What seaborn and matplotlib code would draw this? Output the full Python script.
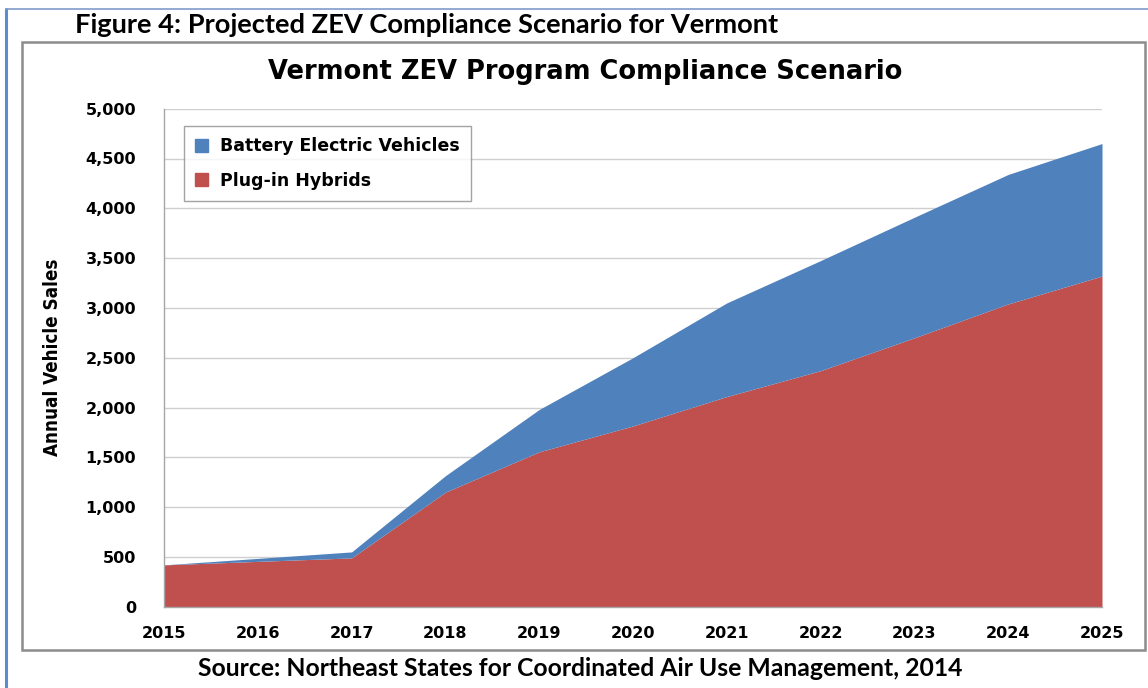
import matplotlib
matplotlib.use("Agg")
import matplotlib.pyplot as plt
import matplotlib.patches as mpatches
from matplotlib.ticker import FuncFormatter
import seaborn as sns
import pandas as pd

# data
years = [2015, 2016, 2017, 2018, 2019, 2020, 2021, 2022, 2023, 2024, 2025]
plug_in_hybrids = [420, 455, 490, 1150, 1555, 1815, 2110, 2370, 2700, 3040, 3320]
battery_electric = [0, 30, 60, 165, 425, 685, 940, 1105, 1210, 1300, 1330]
series_names = ["Battery Electric Vehicles", "Plug-in Hybrids"]

df = pd.DataFrame({"Year": years,
                   "Plug-in Hybrids": plug_in_hybrids,
                   "Battery Electric Vehicles": battery_electric})

sns.set_theme(style="white")
plt.rcParams["font.family"] = ["DejaVu Sans"]
plt.rcParams["text.color"] = "black"

red = "#C0504D"
blue = "#4F81BD"
grey = "#A6A6A6"

fig = plt.figure(figsize=(11.48, 6.88), dpi=100)

# page frame: blue left rule + thin top rule
fig.add_artist(plt.Line2D([6 / 1148, 6 / 1148], [0, 1 - 9 / 688], color="#5B8BD0", lw=2.2))
fig.add_artist(plt.Line2D([6 / 1148, 1], [1 - 9 / 688, 1 - 9 / 688], color="#7F9CC8", lw=1.2))

# chart frame
fig.add_artist(mpatches.Rectangle((22 / 1148, 38 / 688), 1123 / 1148, 608 / 688,
                                  transform=fig.transFigure, fill=False,
                                  edgecolor="#8C8C8C", lw=1.8))

ax = fig.add_axes([164 / 1148, (688 - 606.7) / 688, 938 / 1148, 498 / 688])

ax.stackplot(df["Year"], df["Plug-in Hybrids"], df["Battery Electric Vehicles"],
             colors=[red, blue], linewidth=0, zorder=2)

ax.set_xlim(2015, 2025)
ax.set_ylim(0, 5000)
ax.set_xticks(years)
ax.set_yticks(range(0, 5001, 500))
ax.yaxis.set_major_formatter(FuncFormatter(lambda v, p: f"{int(v):,}"))
ax.grid(axis="y", color="#CFCFCF", lw=1, zorder=0)
ax.grid(axis="x", visible=False)
ax.set_axisbelow(True)

sns.despine(ax=ax, top=True, right=True)
for s in ["left", "bottom"]:
    ax.spines[s].set_color(grey)
    ax.spines[s].set_linewidth(1)
    ax.spines[s].set_zorder(3)

ax.tick_params(axis="both", which="major", direction="out", length=6, width=1,
               color=grey, labelsize=11.5, labelcolor="black")
ax.tick_params(axis="y", pad=14)
ax.tick_params(axis="x", pad=8)
for lab in ax.get_xticklabels() + ax.get_yticklabels():
    lab.set_fontweight("bold")

ax.set_ylabel("Annual Vehicle Sales", fontsize=13.5, fontweight="bold",
              fontstretch="condensed", color="black", labelpad=17)

handles = [mpatches.Patch(color=blue), mpatches.Patch(color=red)]
leg = ax.legend(handles, series_names, loc="upper left",
                bbox_to_anchor=(20 / 938, (606.7 - 126) / 498), borderaxespad=0,
                frameon=True, fancybox=False, edgecolor="#8C8C8C",
                prop={"weight": "bold", "size": 12.5}, handlelength=0.75,
                handleheight=0.75, handletextpad=0.7, labelspacing=0.95,
                borderpad=0.65)
leg.get_frame().set_linewidth(1)

fig.text(585 / 1148, 1 - 72 / 688, "Vermont ZEV Program Compliance Scenario",
         ha="center", va="center", fontsize=18.5, fontweight="bold")

fig.text(75 / 1148, 1 - 25 / 688, "Figure 4: Projected ZEV Compliance Scenario for Vermont",
         ha="left", va="center", fontsize=19.6, fontweight="bold",
         family=["Lato", "DejaVu Sans"])

fig.text(580 / 1148, 1 - 668 / 688,
         "Source: Northeast States for Coordinated Air Use Management, 2014",
         ha="center", va="center", fontsize=17.8, fontweight="bold",
         family=["Lato", "DejaVu Sans"])

fig.savefig("out.png", dpi=100)
